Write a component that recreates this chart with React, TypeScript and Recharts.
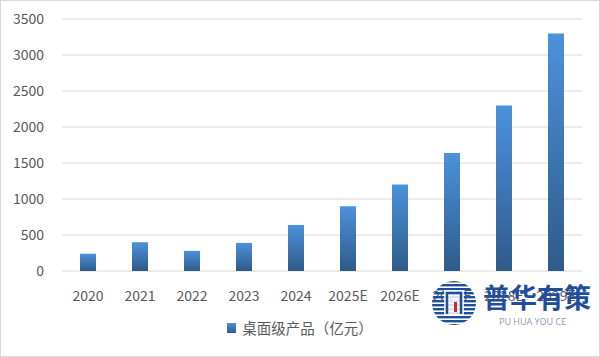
import React from 'react';
import { BarChart, Bar, XAxis, YAxis, CartesianGrid, Legend } from 'recharts';

const years = ['2020', '2021', '2022', '2023', '2024', '2025E', '2026E', '2027E', '2028E', '2029E'];
const desktopSales = [240, 400, 280, 390, 640, 900, 1200, 1640, 2300, 3300];
const yTicks = [0, 500, 1000, 1500, 2000, 2500, 3000, 3500];
const seriesName = '桌面级产品（亿元）';

const data = years.map((year, i) => ({ year, value: desktopSales[i] }));

const font = '"Noto Sans CJK SC", "Noto Sans", sans-serif';

const LegendContent = () => (
  <div style={{ display: 'flex', justifyContent: 'center', alignItems: 'center', fontFamily: font, fontSize: 14.5, color: '#595959', paddingTop: 6 }}>
    <span style={{ display: 'inline-block', width: 9, height: 10, marginRight: 6, background: 'linear-gradient(#4a90d9, #2f5f8f)' }} />
    <span>{seriesName}</span>
  </div>
);

const Watermark = () => (
  <div style={{ position: 'absolute', left: 430, top: 279, width: 168, height: 50, pointerEvents: 'none' }}>
    <svg width={46} height={46} style={{ position: 'absolute', left: 0, top: 0 }}>
      <defs>
        <pattern id="stripes" width="4" height="4" patternUnits="userSpaceOnUse">
          <rect width="4" height="2.4" fill="#1f4e9a" />
        </pattern>
        <clipPath id="logoClip">
          <circle cx="23" cy="23" r="22" />
        </clipPath>
      </defs>
      <circle cx="23" cy="23" r="22" fill="url(#stripes)" />
      <g clipPath="url(#logoClip)">
        <rect x="13" y="10" width="20" height="26" fill="#fff" opacity={0.85} />
        <path d="M16 34 V13 H30 V34" stroke="#1f4e9a" strokeWidth={2.5} fill="none" />
        <rect x="23" y="22" width="3" height="10" fill="#d3272b" />
      </g>
    </svg>
    <div style={{ position: 'absolute', left: 52, top: 0, fontFamily: font, fontWeight: 700, fontSize: 27, lineHeight: '34px', color: '#1f4e9a' }}>
      普华有策
    </div>
    <div style={{ position: 'absolute', left: 68, top: 35, fontFamily: '"Open Sans", sans-serif', fontSize: 9, color: '#8a9bb0', whiteSpace: 'nowrap' }}>
      PU HUA YOU CE
    </div>
  </div>
);

export default function App() {
  return (
    <div style={{ position: 'relative', width: 600, height: 357, background: '#fff', boxSizing: 'border-box', border: '1px solid #d9d9d9' }}>
      <style>{'body{margin:0}'}</style>
      <div style={{ position: 'absolute', left: -1, top: -1 }}>
        <BarChart width={600} height={357} data={data} margin={{ top: 19, right: 18, left: 0, bottom: 16 }}>
          <defs>
            <linearGradient id="barGrad" x1="0" y1="0" x2="0" y2="1">
              <stop offset="0%" stopColor="#4b92dc" />
              <stop offset="100%" stopColor="#2e5b8a" />
            </linearGradient>
          </defs>
          <CartesianGrid vertical={false} stroke="#d9d9d9" />
          <XAxis
            dataKey="year"
            axisLine={false}
            tickLine={false}
            tickSize={0}
            tickMargin={20}
            height={40}
            tick={{ fill: '#595959', fontSize: 14, fontFamily: font }}
            interval={0}
          />
          <YAxis
            width={62}
            domain={[0, 3500]}
            ticks={yTicks}
            axisLine={false}
            tickLine={false}
            tickSize={0}
            tickMargin={18}
            tick={{ fill: '#595959', fontSize: 14, fontFamily: font }}
          />
          <Legend
            verticalAlign="bottom"
            height={30}
            wrapperStyle={{ left: 0, width: 600 }}
            content={<LegendContent />}
          />
          <Bar dataKey="value" name={seriesName} fill="url(#barGrad)" barSize={16} isAnimationActive={false} />
        </BarChart>
      </div>
      <Watermark />
    </div>
  );
}
